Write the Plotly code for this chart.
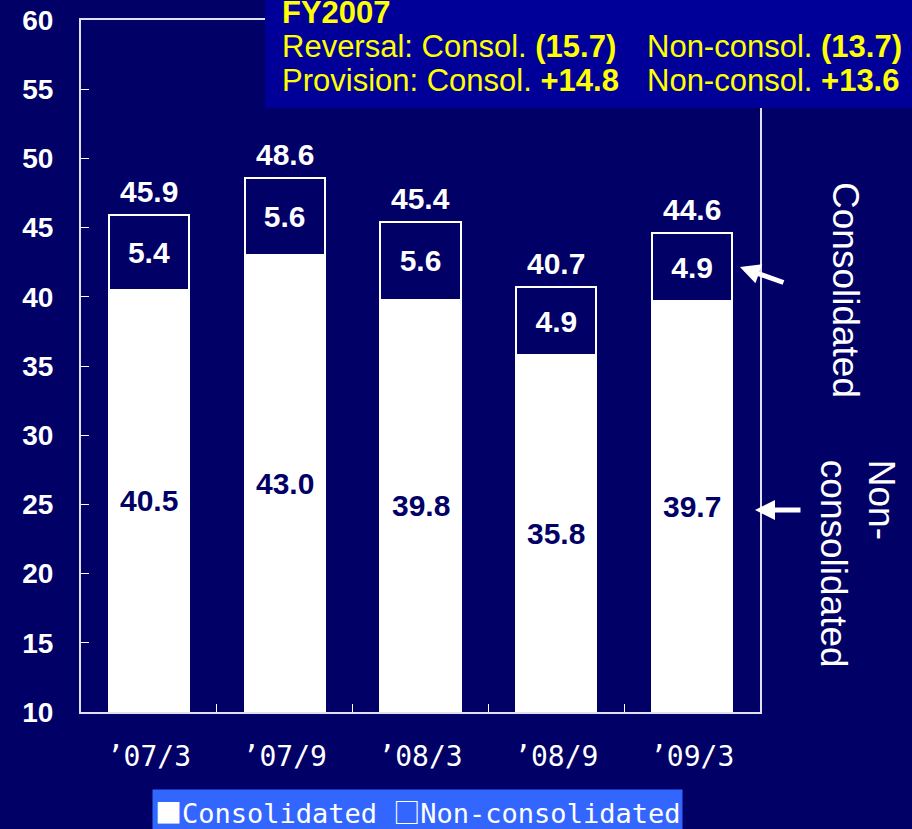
import plotly.graph_objects as go

periods = ["’07/3", "’07/9", "’08/3", "’08/9", "’09/3"]
non_consol = [40.5, 43.0, 39.8, 35.8, 39.7]
consol_extra = [5.4, 5.6, 5.6, 4.9, 4.9]
consol_total = [45.9, 48.6, 45.4, 40.7, 44.6]
y_min, y_max = 10, 60

bg = "#000066"
box_blue = "#000099"
yellow = "#FFFF00"
sans = "Liberation Sans"
mono = "DejaVu Sans Mono"

fig = go.Figure()
fig.add_trace(go.Bar(
    x=periods, y=non_consol,
    marker=dict(color="white", line=dict(color="white", width=2)),
    name="Non-consolidated", showlegend=False,
))
fig.add_trace(go.Bar(
    x=periods, y=consol_extra,
    marker=dict(color=bg, line=dict(color="white", width=2)),
    text=[f"{v:.1f}" for v in consol_extra],
    textposition="inside", insidetextanchor="middle",
    textfont=dict(family=sans, size=30, color="white", weight="bold"),
    name="Consolidated", showlegend=False,
))

# labels in the visible white part
for p, v in zip(periods, non_consol):
    fig.add_annotation(x=p, y=(y_min + v) / 2, text=f"{v:.1f}", showarrow=False,
                       font=dict(family=sans, size=30, color=bg, weight="bold"))
# totals above bars
for p, v in zip(periods, consol_total):
    fig.add_annotation(x=p, y=v, text=f"{v:.1f}", showarrow=False, yanchor="bottom", yshift=5,
                       font=dict(family=sans, size=30, color="white", weight="bold"))

# FY2007 box
fig.add_shape(type="rect", xref="paper", yref="paper", x0=0.271, x1=1.23, y0=0.8728, y1=1.04,
              fillcolor=box_blue, line=dict(width=0), layer="above")
box_lines = [
    ("<b>FY2007</b>", None, 1.0102),
    ("Reversal: Consol. <b>(15.7)</b>", "Non-consol. <b>(13.7)</b>", 0.961),
    ("Provision: Consol. <b>+14.8</b>", "Non-consol. <b>+13.6</b>", 0.9119),
]
for left, right, yy in box_lines:
    fig.add_annotation(xref="paper", yref="paper", x=0.2931, y=yy, xanchor="left", yanchor="middle",
                       text=left, showarrow=False, font=dict(family=sans, size=31, color=yellow))
    if right:
        fig.add_annotation(xref="paper", yref="paper", x=0.8306, y=yy, xanchor="left", yanchor="middle",
                           text=right, showarrow=False, font=dict(family=sans, size=31, color=yellow))

# side labels and arrows
fig.add_annotation(xref="paper", yref="paper", x=1.125, y=0.61, xanchor="center", yanchor="middle",
                   text="Consolidated", textangle=90, showarrow=False,
                   font=dict(family=sans, size=37, color="white"))
fig.add_annotation(xref="paper", yref="paper", x=1.143, y=0.214, xanchor="center", yanchor="middle",
                   text="Non-<br>consolidated", textangle=90, showarrow=False, align="left",
                   font=dict(family=sans, size=37, color="white"))
fig.add_annotation(xref="paper", yref="paper", x=0.9705, y=0.643, ax=45, ay=16,
                   showarrow=True, arrowhead=2, arrowsize=0.8, arrowwidth=5, arrowcolor="white", text="")
fig.add_annotation(xref="paper", yref="paper", x=0.9926, y=0.292, ax=47, ay=0,
                   showarrow=True, arrowhead=2, arrowsize=0.8, arrowwidth=5, arrowcolor="white", text="")

# legend box
sq = "<span style=\"font-family:'Noto Sans CJK JP'\">{}</span>"
fig.add_annotation(xref="paper", yref="paper", x=0.496, y=-0.1113, xanchor="center", yanchor="top",
                   showarrow=False, bgcolor="#3366FF", borderpad=2,
                   text=sq.format("■") + "Consolidated " + sq.format("□") + "Non-consolidated",
                   font=dict(family=mono, size=27, color="white"))

fig.update_layout(
    barmode="stack", bargap=0.41,
    width=912, height=829,
    margin=dict(l=81, r=152, t=20, b=117),
    paper_bgcolor=bg, plot_bgcolor=bg,
    xaxis=dict(
        showline=True, linecolor="#E0E0F0", linewidth=2, mirror=True,
        ticks="inside", tickson="boundaries", ticklen=8, tickcolor="white",
        tickfont=dict(family=mono, size=28, color="white"),
        ticklabelstandoff=18, showgrid=False, automargin=False,
    ),
    yaxis=dict(
        range=[y_min, y_max], dtick=5,
        showline=True, linecolor="#E0E0F0", linewidth=2, mirror=True,
        ticks="inside", ticklen=8, tickcolor="white",
        tickfont=dict(family=sans, size=28, color="white", weight="bold"),
        ticklabelstandoff=20, showgrid=False, zeroline=False, automargin=False,
    ),
)

fig.write_html("out.html", config={"displayModeBar": False},
               post_script="document.body.style.margin='0';document.body.style.background='#000066';")
